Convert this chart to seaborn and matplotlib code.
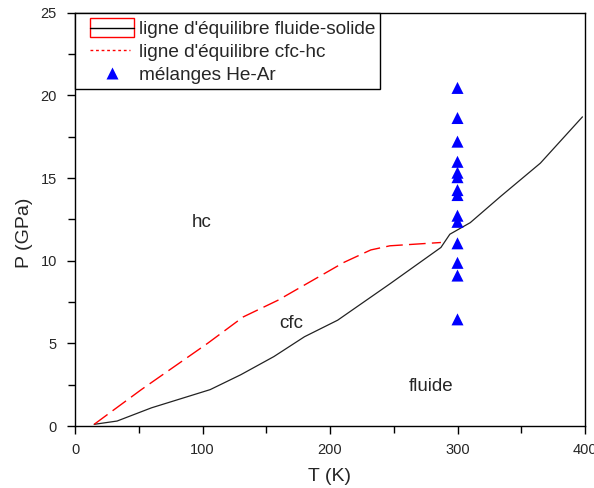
import matplotlib
matplotlib.use("Agg")
import matplotlib.pyplot as plt
import seaborn as sns
import pandas as pd
from matplotlib.lines import Line2D
from matplotlib.patches import Rectangle
from matplotlib.legend_handler import HandlerBase
from matplotlib.ticker import MultipleLocator

# Data
T_fluide_solide = [15, 33, 60, 106, 130, 156, 180, 206, 247, 287, 294, 310, 334, 365, 398]
P_fluide_solide = [0.1, 0.3, 1.1, 2.2, 3.1, 4.2, 5.4, 6.4, 8.6, 10.8, 11.6, 12.3, 13.9, 15.9, 18.7]

T_cfc_hc = [15, 52, 104, 132, 159, 211, 232, 247, 287]
P_cfc_hc = [0.1, 2.2, 5.0, 6.6, 7.6, 9.9, 10.65, 10.9, 11.1]

T_melanges = [300] * 14
P_melanges = [20.45, 18.63, 17.2, 15.98, 15.32, 15.05, 14.27, 13.97, 12.72, 12.35, 11.05, 9.87, 9.1, 6.45]

region_labels = ["hc", "cfc", "fluide"]
region_T = [99, 170, 279]
region_P = [12.3, 6.2, 2.4]

legend_labels = ["ligne d'équilibre fluide-solide", "ligne d'équilibre cfc-hc", "mélanges He-Ar"]

sns.set_style("ticks")
plt.rcParams["font.family"] = ["Liberation Sans", "DejaVu Sans"]

fig = plt.figure(figsize=(5.94, 4.88), dpi=100)
ax = fig.add_axes([75 / 594, 1 - 426 / 488, 510 / 594, (426 - 12.7) / 488])

df_fs = pd.DataFrame({"T": T_fluide_solide, "P": P_fluide_solide})
df_ch = pd.DataFrame({"T": T_cfc_hc, "P": P_cfc_hc})
df_m = pd.DataFrame({"T": T_melanges, "P": P_melanges})

sns.lineplot(data=df_fs, x="T", y="P", sort=False, color="#222222", lw=0.9, ax=ax)
sns.lineplot(data=df_ch, x="T", y="P", sort=False, color="red", lw=1.0, ax=ax)
ax.lines[-1].set_dashes((12, 4.5))
sns.scatterplot(data=df_m, x="T", y="P", marker="^", color="#0000ff", s=75,
                edgecolor="none", ax=ax, zorder=5)

for lab, t, p in zip(region_labels, region_T, region_P):
    ax.text(t, p, lab, fontsize=13.5, ha="center", va="center")

ax.set_xlim(0, 400)
ax.set_ylim(0, 25)
ax.xaxis.set_major_locator(MultipleLocator(100))
ax.xaxis.set_minor_locator(MultipleLocator(50))
ax.yaxis.set_major_locator(MultipleLocator(5))
ax.yaxis.set_minor_locator(MultipleLocator(2.5))
ax.tick_params(which="both", direction="out", length=6, width=1, color="black",
               labelsize=10.5)
ax.tick_params(axis="x", pad=6)
ax.tick_params(axis="y", pad=7)
ax.tick_params(which="minor", length=5)
for s in ax.spines.values():
    s.set_visible(True)
    s.set_color("black")
    s.set_linewidth(1.0)

ax.set_xlabel("T (K)", fontsize=14, labelpad=8)
ax.set_ylabel("P (GPa)", fontsize=14)
ax.yaxis.set_label_coords(-0.083, 0.467)


class OffsetHandler(HandlerBase):
    def __init__(self, kind, off):
        super().__init__()
        self.kind = kind
        self.off = off

    def create_artists(self, legend, orig_handle, xdescent, ydescent, width, height,
                       fontsize, trans):
        x0 = -xdescent + self.off
        x1 = width - xdescent
        y0 = -ydescent
        ym = y0 + height / 2
        if self.kind == "rect":
            r = Rectangle((x0, y0), x1 - x0, height, facecolor="none", edgecolor="red", lw=1.0)
            ln = Line2D([x0, x1], [ym, ym], color="black", lw=1.0)
            arts = [r, ln]
        elif self.kind == "dot":
            arts = [Line2D([x0, x1 - 3], [ym, ym], color="red", lw=1.0, linestyle=(0, (2, 2)))]
        else:
            arts = [Line2D([(x0 + x1) / 2], [ym], color="#0000ff", marker="^", linestyle="none",
                           markersize=8, markeredgecolor="none")]
        for a in arts:
            a.set_transform(trans)
        return arts


h1 = Line2D([], [])
h2 = Line2D([], [])
h3 = Line2D([], [])
off = 7.2
leg = ax.legend([h1, h2, h3], legend_labels,
                handler_map={h1: OffsetHandler("rect", off), h2: OffsetHandler("dot", off),
                             h3: OffsetHandler("tri", off)},
                loc="upper left", bbox_to_anchor=(0, 1), borderaxespad=0,
                fontsize=13.7, handlelength=2.84, handleheight=1.22, labelspacing=0.14,
                fancybox=False, framealpha=1, edgecolor="black", borderpad=0.26,
                handletextpad=0.26)
leg.get_frame().set_linewidth(1.0)

fig.savefig("out.png", dpi=100)
